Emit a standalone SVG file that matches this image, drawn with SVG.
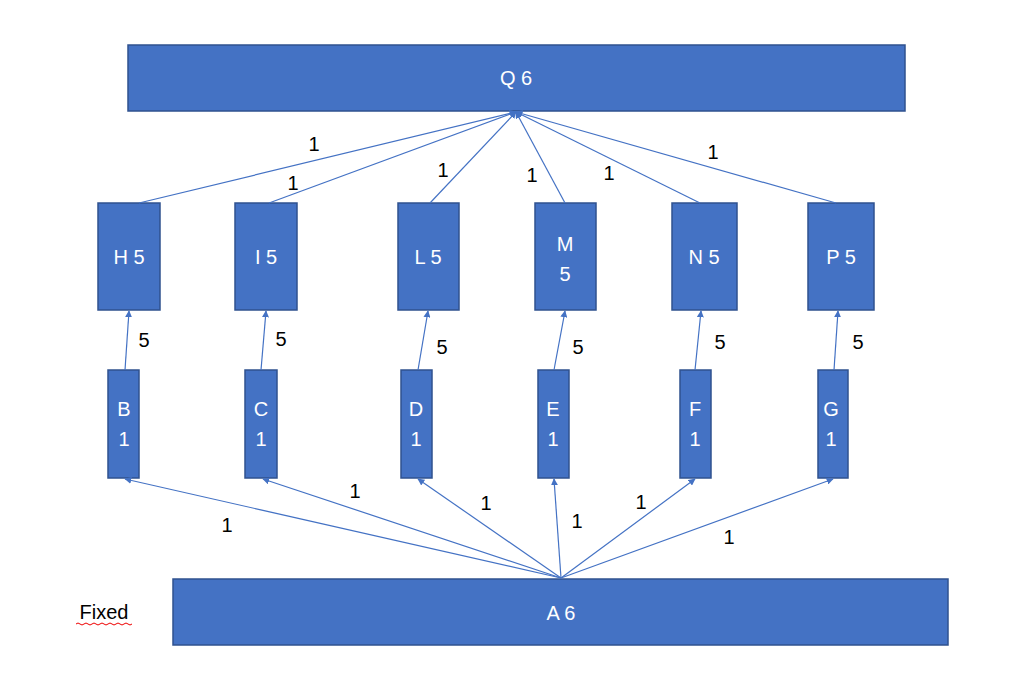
<svg xmlns="http://www.w3.org/2000/svg" width="1009" height="699" viewBox="0 0 1009 699">
<style>
.box{fill:#4472C4;stroke:#2F528F;stroke-width:1.5}
.bt{fill:#fff;font-family:"Liberation Sans",Arial,sans-serif;font-size:20px;text-anchor:middle}
.lb{fill:#000;font-family:"Liberation Sans",Arial,sans-serif;font-size:20px;text-anchor:middle}
.ln{stroke:#4472C4;stroke-width:1.2;fill:none;marker-end:url(#ah)}
</style>
<defs><marker id="ah" viewBox="0 0 10 10" refX="9" refY="5" markerWidth="7" markerHeight="7" markerUnits="userSpaceOnUse" orient="auto"><path d="M0,0L10,5L0,10z" fill="#4472C4"/></marker></defs>
<rect width="1009" height="699" fill="#fff"/>
<g id="Q"><rect class="box" x="128" y="45" width="777" height="66"/><text class="bt" x="516" y="85">Q 6</text></g>
<g id="H"><rect class="box" x="98" y="203" width="62" height="107"/><text class="bt" x="129" y="264">H 5</text></g>
<g id="I"><rect class="box" x="235" y="203" width="62" height="107"/><text class="bt" x="266" y="264">I 5</text></g>
<g id="L"><rect class="box" x="398" y="203" width="61" height="107"/><text class="bt" x="428" y="264">L 5</text></g>
<g id="M"><rect class="box" x="535" y="203" width="61" height="107"/><text class="bt" x="565" y="251">M</text><text class="bt" x="565" y="281">5</text></g>
<g id="N"><rect class="box" x="672" y="203" width="65" height="107"/><text class="bt" x="704" y="264">N 5</text></g>
<g id="P"><rect class="box" x="808" y="203" width="66" height="107"/><text class="bt" x="841" y="264">P 5</text></g>
<g id="B"><rect class="box" x="108" y="370" width="31" height="108"/><text class="bt" x="124" y="416">B</text><text class="bt" x="124" y="446">1</text></g>
<g id="C"><rect class="box" x="245" y="370" width="32" height="108"/><text class="bt" x="261" y="416">C</text><text class="bt" x="261" y="446">1</text></g>
<g id="D"><rect class="box" x="401" y="370" width="31" height="108"/><text class="bt" x="416" y="416">D</text><text class="bt" x="416" y="446">1</text></g>
<g id="E"><rect class="box" x="538" y="370" width="31" height="108"/><text class="bt" x="553" y="416">E</text><text class="bt" x="553" y="446">1</text></g>
<g id="F"><rect class="box" x="680" y="370" width="31" height="108"/><text class="bt" x="695" y="416">F</text><text class="bt" x="695" y="446">1</text></g>
<g id="G"><rect class="box" x="818" y="370" width="30" height="108"/><text class="bt" x="831" y="416">G</text><text class="bt" x="831" y="446">1</text></g>
<g id="A"><rect class="box" x="173" y="579" width="775" height="66"/><text class="bt" x="561" y="620">A 6</text></g>
<g id="Fixed"><text class="lb" x="104" y="619">Fixed</text><path d="M76,624 q2,-2 4,0 t4,0 t4,0 t4,0 t4,0 t4,0 t4,0 t4,0 t4,0 t4,0 t4,0 t4,0 t4,0 t4,0" stroke="#e00" stroke-width="1" fill="none"/></g>
<g id="connectors">
<path class="ln" d="M139,203L516,112"/><path class="ln" d="M269,203L516,112"/><path class="ln" d="M430,203L516,112"/><path class="ln" d="M565,203L516,112"/><path class="ln" d="M700,203L516,112"/><path class="ln" d="M836,203L516,112"/>
<path class="ln" d="M125,370L129,311"/><path class="ln" d="M261,370L266,311"/><path class="ln" d="M418,370L428,311"/><path class="ln" d="M554,370L565,311"/><path class="ln" d="M695,370L701,311"/><path class="ln" d="M834,370L838,311"/>
<path class="ln" d="M561,578L125,479"/><path class="ln" d="M561,578L263,479"/><path class="ln" d="M561,578L418,479"/><path class="ln" d="M561,578L554,479"/><path class="ln" d="M561,578L695,479"/><path class="ln" d="M561,578L833,479"/>
</g>
<g id="labels">
<text class="lb" x="314" y="151">1</text><text class="lb" x="293" y="190">1</text><text class="lb" x="443" y="177">1</text><text class="lb" x="532" y="182">1</text><text class="lb" x="609" y="180">1</text><text class="lb" x="713" y="159">1</text>
<text class="lb" x="144" y="347">5</text><text class="lb" x="281" y="346">5</text><text class="lb" x="442" y="354">5</text><text class="lb" x="578" y="354">5</text><text class="lb" x="720" y="349">5</text><text class="lb" x="858" y="349">5</text>
<text class="lb" x="227" y="532">1</text><text class="lb" x="355" y="498">1</text><text class="lb" x="486" y="510">1</text><text class="lb" x="577" y="528">1</text><text class="lb" x="641" y="509">1</text><text class="lb" x="729" y="544">1</text>
</g>
</svg>
